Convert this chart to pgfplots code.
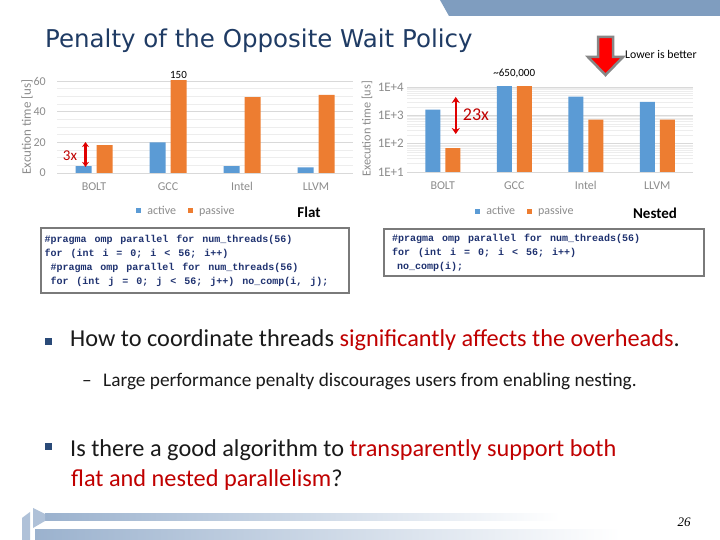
\documentclass[border=0pt]{standalone}
\usepackage{pgfplots}
\pgfplotsset{compat=1.18}
\usepackage{fontspec}
\setmainfont{Carlito}
\newfontfamily\dejavu{DejaVu Sans}
\newfontfamily\codefont{Liberation Mono}
\newfontfamily\serifit{Liberation Serif}
\usetikzlibrary{arrows.meta}
\definecolor{activeblue}{HTML}{5B9BD5}
\definecolor{passiveorange}{HTML}{ED7D31}
\definecolor{gridmajor}{HTML}{D9D9D9}
\definecolor{gridminor}{HTML}{EDEDED}
\definecolor{tickgray}{HTML}{8C8C8C}
\definecolor{titleblue}{HTML}{1F3B64}
\definecolor{codeblue}{HTML}{1F3270}
\definecolor{boxgray}{HTML}{7A7A7A}
\definecolor{slidered}{HTML}{C00000}
\definecolor{arrowred}{HTML}{E00000}
\definecolor{bandblue}{HTML}{7F9DBF}
\definecolor{stripeblue}{HTML}{9BB2CE}
\definecolor{bulletblue}{HTML}{2A4A78}
\definecolor{textblack}{HTML}{1A1A1A}

\pgfplotsset{
  slidebars/.style={
    scale only axis, anchor=south west,
    xmin=-0.5, xmax=3.5,
    xtick={0,1,2,3}, xticklabels={BOLT,GCC,Intel,LLVM},
    axis x line*=bottom, axis y line*=left,
    x axis line style={draw=gridmajor, line width=0.8pt},
    y axis line style={draw=none},
    major tick length=0pt, minor tick length=0pt,
    tick style={draw=none},
    ymajorgrids, yminorgrids,
    major grid style={draw=gridmajor, line width=0.6pt},
    minor grid style={draw=gridminor, line width=0.5pt},
    tick label style={text=tickgray, inner sep=0pt},
    xticklabel style={font=\fontsize{12}{12}\selectfont, text height=8.5pt, text depth=2.5pt, yshift=-9pt},
    /pgf/number format/assume math mode=true,
    clip mode=individual,
    ybar, bar width=16pt,
    legend columns=2,
    legend style={draw=none, fill=none, inner sep=0pt,
      font=\fontsize{12}{12}\selectfont, text=tickgray},
    legend image code/.code={\fill[##1] (0pt,-2.5pt) rectangle (5pt,2.5pt); \path (9pt,0pt);},
  }
}

\begin{document}
\begin{tikzpicture}[x=1pt,y=1pt]
\path[use as bounding box, fill=white] (0pt,0pt) rectangle (720pt,540pt);

% top band
\fill[bandblue] (440,540) -- (720,540) -- (720,524) -- (449,524) -- cycle;

% title
\node[anchor=base west, inner sep=0pt, font=\dejavu\fontsize{24.5}{24.5}\selectfont, text=titleblue] at (45,492) {Penalty of the Opposite Wait Policy};

% lower is better arrow
\draw[boxgray!90, line width=2.5pt, fill=red, line join=miter] (598,503) -- (613,503) -- (613,483) -- (623,483) -- (605.5,465) -- (588,483) -- (598,483) -- cycle;
\node[anchor=west, inner sep=0pt, font=\fontsize{11.8}{11.8}\selectfont] at (625,486) {Lower is better};

% ---------------- Flat chart ----------------
\begin{axis}[slidebars, at={(57pt,367pt)}, width=296pt, height=92pt,
  ymin=0, ymax=60, ytick={0,20,40,60}, minor y tick num=3,
  yticklabel style={font=\fontsize{12}{12}\selectfont, xshift=-11pt},
  legend style={at={(0.4375,-0.413)}, anchor=center}]
\addplot[fill=activeblue, draw=none, bar shift=-10.5pt] coordinates {(0,4.4) (1,19.9) (2,4.4) (3,3.7)};
\addplot[fill=passiveorange, draw=none, bar shift=10.5pt] coordinates {(0,18.1) (1,150) (2,49.5) (3,51)};
\legend{active\rule{10pt}{0pt}, passive}
\node[anchor=south, inner sep=0pt, font=\fontsize{11}{11}\selectfont, xshift=10.5pt, yshift=2pt] at (axis cs:1,60) {150};
\draw[arrowred, line width=2.4pt, {Stealth[length=5pt,width=7pt]}-{Stealth[length=5pt,width=7pt]}] ([xshift=-8.5pt]axis cs:0,4) -- ([xshift=-8.5pt]axis cs:0,20.2);
\end{axis}
\node[rotate=90, inner sep=0pt, font=\fontsize{13}{13}\selectfont, text=tickgray] at (27,413) {Excution time [us]};
\node[inner sep=0pt, font=\fontsize{15}{15}\selectfont, text=slidered] at (70,384) {3x};
\node[inner sep=0pt, font=\bfseries\fontsize{15}{15}\selectfont] at (309,328) {Flat};

% ---------------- Nested chart ----------------
\begin{axis}[slidebars, at={(407pt,368pt)}, width=286pt, height=85pt,
  ymode=log, ymin=10, ymax=10000, log origin=infty,
  ytick={10,100,1000,10000}, yticklabels={1E+1,1E+2,1E+3,1E+4},
  minor ytick={20,30,40,50,60,70,80,90,200,300,400,500,600,700,800,900,2000,3000,4000,5000,6000,7000,8000,9000},
  bar width=15pt,
  yticklabel style={font=\fontsize{13}{13}\selectfont, xshift=-3pt},
  legend style={at={(0.414,-0.459)}, anchor=center}]
\addplot[fill=activeblue, draw=none, bar shift=-10pt] coordinates {(0,1600) (1,650000) (2,4600) (3,3000)};
\addplot[fill=passiveorange, draw=none, bar shift=10pt] coordinates {(0,70) (1,650000) (2,700) (3,700)};
\legend{active\rule{10pt}{0pt}, passive}
\node[anchor=south, inner sep=0pt, font=\fontsize{11}{11}\selectfont, yshift=9pt] at (axis cs:1,10000) {\textasciitilde650,000};
\draw[arrowred, line width=2.4pt, {Stealth[length=6pt,width=8pt]}-{Stealth[length=6pt,width=8pt]}] ([xshift=13pt]axis cs:0,219) -- ([xshift=13pt]axis cs:0,4440);
\end{axis}
\node[rotate=90, inner sep=0pt, font=\fontsize{12.3}{12.3}\selectfont, text=tickgray] at (367,411) {Execution time [us]};
\node[inner sep=0pt, font=\fontsize{18}{18}\selectfont, text=slidered] at (476,425) {23x};
\node[inner sep=0pt, font=\bfseries\fontsize{15}{15}\selectfont] at (655,327) {Nested};

% ---------------- code boxes ----------------
\node[draw=boxgray, line width=2pt, anchor=north west, text width=301pt, inner xsep=3.5pt, minimum height=65pt, align=left, text=codeblue, font=\codefont\bfseries\fontsize{10}{14}\selectfont] at (40,313)
{\spaceskip=8pt\relax\#pragma omp parallel for num\_threads(56)\\
for (int i = 0; i < 56; i++)\\
\hspace*{6pt}\#pragma omp parallel for num\_threads(56)\\
\hspace*{6pt}for (int j = 0; j < 56; j++) no\_comp(i, j);};

\node[draw=boxgray, line width=2pt, anchor=north west, text width=304pt, inner xsep=8pt, minimum height=47pt, align=left, text=codeblue, font=\codefont\bfseries\fontsize{10}{14}\selectfont] at (383,312)
{\spaceskip=8pt\relax\#pragma omp parallel for num\_threads(56)\\
for (int i = 0; i < 56; i++)\\
\hspace*{5pt}no\_comp(i);};

% ---------------- bullets ----------------
\fill[bulletblue] (45,195) rectangle (52,202);
\node[anchor=base west, inner sep=0pt, font=\fontsize{24.3}{28}\selectfont, text=textblack] at (70,193) {How to coordinate threads \textcolor{slidered}{significantly affects the overheads}.};
\node[anchor=base west, inner sep=0pt, font=\fontsize{19.3}{23}\selectfont, text=textblack] at (82,153) {--};
\node[anchor=base west, inner sep=0pt, font=\fontsize{19.3}{23}\selectfont, text=textblack] at (103,153) {Large performance penalty discourages users from enabling nesting.};

\fill[bulletblue] (45,90) rectangle (52,97);
\node[anchor=base west, inner sep=0pt, font=\fontsize{24.3}{28}\selectfont, text=textblack] at (70,83) {Is there a good algorithm to \textcolor{slidered}{transparently support both}};
\node[anchor=base west, inner sep=0pt, font=\fontsize{24.3}{28}\selectfont, text=slidered] at (71,53) {flat and nested parallelism\textcolor{textblack}{?}};

% ---------------- footer ----------------
\shade[left color=stripeblue, right color=white] (45,19) rectangle (560,26);
\shade[left color=stripeblue, right color=white] (35,0) rectangle (620,10);
\fill[stripeblue!80] (22,0) -- (30,0) -- (30,28) -- (22,22) -- cycle;
\fill[stripeblue!80] (33,12) -- (45,19) -- (45,26) -- (33,32) -- cycle;
\node[anchor=base, inner sep=0pt, font=\serifit\itshape\fontsize{13}{13}\selectfont] at (684,13) {26};
\end{tikzpicture}
\end{document}
